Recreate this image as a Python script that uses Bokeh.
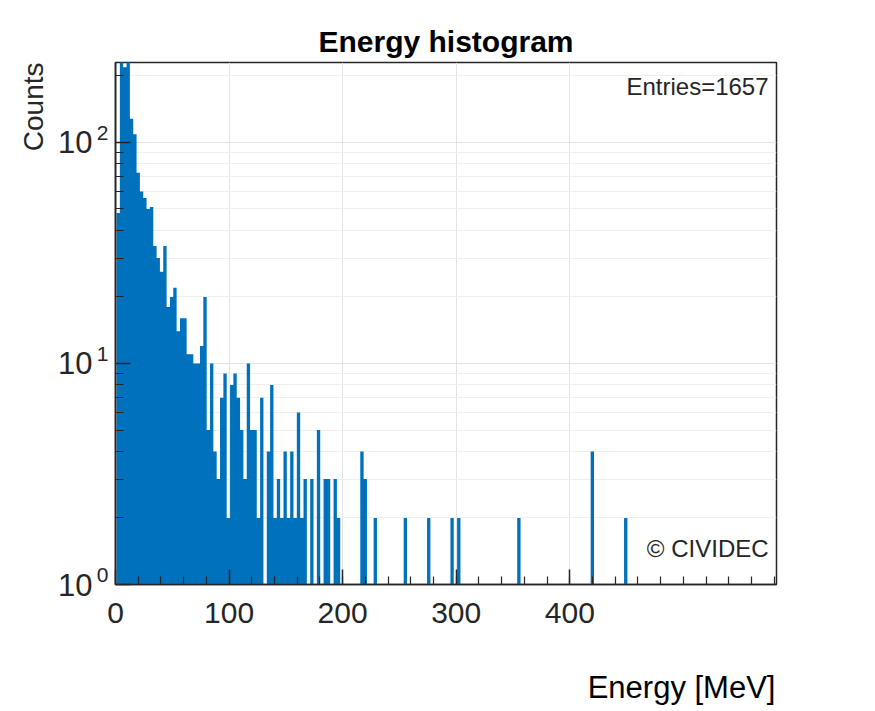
import numpy as np
from bokeh.plotting import figure
from bokeh.models import (FixedTicker, Title, Label, ColumnDataSource,
                          LogAxis, LinearAxis)
from bokeh.embed import file_html
from bokeh.resources import INLINE

# ---- data ----
bin_start = 0.9      # MeV, left edge of first bin
bin_width = 2.94     # MeV
counts = [
    48, 260, 219, 245, 128, 109, 73, 60, 56, 50,
    51, 34, 30, 26, 34, 18, 20, 22, 14, 16,
    16, 11, 11, 10, 10, 12, 20, 5, 10, 4,
    3, 7, 9, 2, 8, 9, 7, 5, 3, 10,
    5, 5, 2, 7, 0, 4, 8, 2, 3, 2,
    4, 2, 4, 2, 6, 2, 3, 0, 3, 0,
    5, 0, 3, 3, 0, 3, 2, 0, 0, 0,
    0, 0, 0, 4, 3, 0, 0, 2, 0, 0,
    0, 0, 0, 0, 0, 0, 2, 0, 0, 0,
    0, 0, 0, 2, 0, 0, 0, 0, 0, 0,
    2, 0, 2, 0, 0, 0, 0, 0, 0, 0,
    0, 0, 0, 0, 0, 0, 0, 0, 0, 0,
    2, 0, 0, 0, 0, 0, 0, 0, 0, 0,
    0, 0, 0, 0, 0, 0, 0, 0, 0, 0,
    0, 0, 4, 0, 0, 0, 0, 0, 0, 0,
    0, 0, 2, 0,
]
entries = 1657
x_major_ticks = [0, 100, 200, 300, 400]
x_minor_ticks = list(range(20, 600, 20))
y_major_ticks = [1, 10, 100]
y_minor_ticks = [2, 3, 4, 5, 6, 7, 8, 9, 20, 30, 40, 50, 60, 70, 80, 90, 200]
y_tick_base = "10"
y_tick_exponents = ["0", "1", "2"]
x_max = 582
y_min, y_max = 1, 230

# ---- layout constants ----
W, H = 875, 711
BL, BR, BT, BB = 115, 99, 62, 127
frame_w = W - BL - BR
FONT = "Liberation Sans"
DARK = "#262626"
BLUE = "#0072BD"

# ---- histogram as one step-shaped filled area (no seams between bins) ----
c = np.array(counts, dtype=float)
edges = bin_start + bin_width * np.arange(len(c) + 1)
base = 0.5                                   # below the visible log range
h = np.where(c > 0, c, base)
step_x = np.concatenate([[edges[0]], np.repeat(edges, 2)[1:-1], [edges[-1]]])
step_y = np.concatenate([[base], np.repeat(h, 2), [base]])

p = figure(width=W, height=H, x_range=(0, x_max), y_range=(y_min, y_max),
           y_axis_type="log", output_backend="svg", toolbar_location=None,
           min_border_left=BL, min_border_right=BR, min_border_top=BT,
           min_border_bottom=BB)
p.background_fill_color = "white"
p.border_fill_color = "white"
p.outline_line_color = DARK
p.outline_line_width = 1.5

p.patch(x=step_x, y=step_y, fill_color=BLUE, line_color=None)

xax = p.xaxis[0]
yax = p.yaxis[0]
xax.ticker = FixedTicker(ticks=x_major_ticks, minor_ticks=x_minor_ticks)
yax.ticker = FixedTicker(ticks=y_major_ticks, minor_ticks=y_minor_ticks)

for ax in (xax, yax):
    ax.axis_line_color = DARK
    ax.axis_line_width = 1.6
    ax.major_tick_in = 15
    ax.major_tick_out = 0
    ax.minor_tick_in = 8
    ax.minor_tick_out = 0
    ax.major_tick_line_color = DARK
    ax.minor_tick_line_color = DARK
    ax.major_tick_line_width = 1.5
    ax.minor_tick_line_width = 1.2
    ax.major_label_text_font = FONT
    ax.major_label_text_color = DARK
xax.major_label_text_font_size = "30px"
xax.major_label_standoff = 18
# y tick labels are drawn by the two helper axes below
yax.major_label_overrides = {t: "" for t in y_major_ticks}
yax.major_label_text_font_size = "1px"
yax.major_label_standoff = 0

def helper_axis(cls, ticks, labels, size, standoff):
    return cls(ticker=FixedTicker(ticks=ticks, minor_ticks=[]),
               major_label_overrides=dict(zip(ticks, labels)),
               axis_line_color=None, major_tick_line_color=None,
               minor_tick_line_color=None, major_tick_in=0, major_tick_out=0,
               minor_tick_in=0, minor_tick_out=0,
               major_label_standoff=standoff, major_label_text_font=FONT,
               major_label_text_font_size=size, major_label_text_color=DARK)

# exponents (raised a little above each decade) then the "10" bases
exp_raise = 1.1
exp_ticks = [t * exp_raise for t in y_major_ticks]
p.add_layout(helper_axis(LogAxis, exp_ticks, y_tick_exponents, "21px", 7), "left")
p.add_layout(helper_axis(LogAxis, y_major_ticks, [y_tick_base] * 3, "31px", 1), "left")

p.xgrid.grid_line_color = "#e3e3e3"
p.ygrid.grid_line_color = "#e3e3e3"
p.ygrid.minor_grid_line_color = "#efefef"

p.title.text = "Energy histogram"
p.title.text_font = FONT
p.title.text_font_size = "30px"
p.title.text_font_style = "bold"
p.title.align = "center"
p.title.text_color = "black"

p.add_layout(Title(text="Counts", align="right", text_font=FONT,
                   text_font_size="28px", text_font_style="normal",
                   text_color=DARK, standoff=14), "left")

# x-axis title, right-aligned with the frame, on its own helper axis
xlabel = "Energy [MeV]"
xlabel_size = 31
xlabel_width_px = 6.06 * xlabel_size
xlabel_center = x_max - (xlabel_width_px / 2 + 1) * x_max / frame_w
xlab_axis = helper_axis(LinearAxis, [xlabel_center], [xlabel], f"{xlabel_size}px", 44)
xlab_axis.major_label_text_color = "black"
p.add_layout(xlab_axis, "below")

def yfrac(f):
    return 10 ** (np.log10(y_min) + f * (np.log10(y_max) - np.log10(y_min)))

p.add_layout(Label(x=x_max * 0.988, y=yfrac(0.954), text=f"Entries={entries}",
                   text_align="right", text_baseline="middle", text_font=FONT,
                   text_font_size="24px", text_color=DARK))
p.add_layout(Label(x=x_max * 0.988, y=yfrac(0.069), text="\u00a9 CIVIDEC",
                   text_align="right", text_baseline="middle", text_font=FONT,
                   text_font_size="24px", text_color=DARK))

open("out.html", "w").write(file_html(p, INLINE))
